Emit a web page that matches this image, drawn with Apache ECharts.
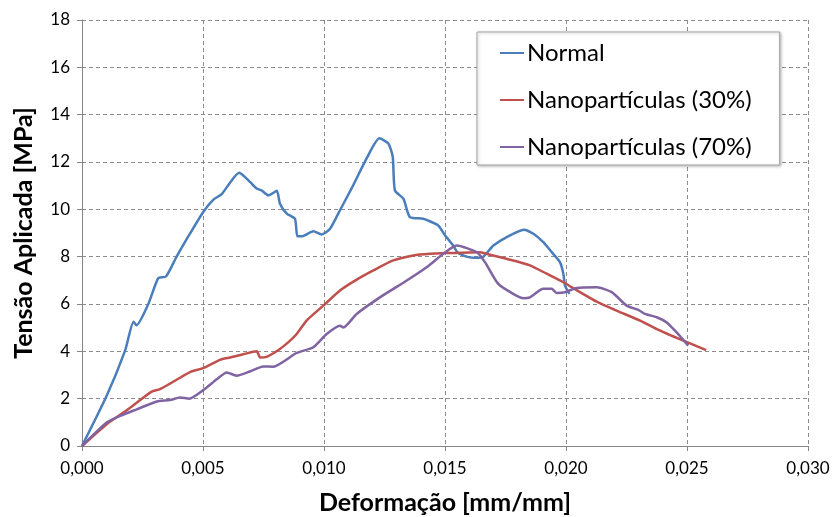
<!DOCTYPE html>
<html>
<head>
<meta charset="utf-8" />
<title>Tensão x Deformação</title>
<style>
  html, body { margin: 0; padding: 0; background: #fff; }
  #chart { width: 832px; height: 517px; }
</style>
</head>
<body>
<div id="chart"></div>
<script src="https://cdn.jsdelivr.net/npm/echarts@6/dist/echarts.min.js"></script>
<script>
// deformação [mm/mm] e tensão [MPa] de cada ensaio
var normalX = [0, 0.00102, 0.00178, 0.00213, 0.00225, 0.00274, 0.00315, 0.00347, 0.00391, 0.00446, 0.00501, 0.00543, 0.00577, 0.0065, 0.00694, 0.00722, 0.00742, 0.0077, 0.00805, 0.00818, 0.00846, 0.0088, 0.0089, 0.00908, 0.00956, 0.0099, 0.01025, 0.01066, 0.01121, 0.01176, 0.01229, 0.01266, 0.01284, 0.01293, 0.01328, 0.01355, 0.0141, 0.01472, 0.015, 0.01534, 0.01551, 0.01597, 0.01631, 0.01658, 0.017, 0.01755, 0.01826, 0.01865, 0.01906, 0.01941, 0.01975, 0.01989, 0.01996, 0.02014];
var normalY = [0, 2.12, 4.03, 5.25, 5.1, 6.0, 7.09, 7.16, 8.0, 8.97, 9.89, 10.41, 10.64, 11.55, 11.16, 10.88, 10.8, 10.59, 10.78, 10.24, 9.82, 9.6, 8.86, 8.86, 9.07, 8.94, 9.18, 9.96, 11.02, 12.15, 13.0, 12.78, 12.22, 10.8, 10.45, 9.67, 9.6, 9.32, 8.9, 8.47, 8.19, 7.98, 7.95, 8.0, 8.47, 8.83, 9.14, 8.97, 8.61, 8.19, 7.77, 7.28, 6.78, 6.43];

var nano30X = [0, 0.00102, 0.00171, 0.00226, 0.00288, 0.00322, 0.00391, 0.00453, 0.00501, 0.0057, 0.00612, 0.00667, 0.00722, 0.00736, 0.00763, 0.00818, 0.0086, 0.00887, 0.00928, 0.00997, 0.01066, 0.01135, 0.01204, 0.01286, 0.01369, 0.01438, 0.01507, 0.01645, 0.01686, 0.01782, 0.01851, 0.0192, 0.01989, 0.02058, 0.02127, 0.02209, 0.02306, 0.02375, 0.02485, 0.02579];
var nano30Y = [0, 0.92, 1.41, 1.83, 2.3, 2.4, 2.8, 3.15, 3.29, 3.64, 3.74, 3.88, 4.0, 3.74, 3.77, 4.1, 4.45, 4.73, 5.3, 5.93, 6.57, 7.03, 7.42, 7.84, 8.05, 8.12, 8.15, 8.19, 8.08, 7.84, 7.63, 7.28, 6.92, 6.5, 6.1, 5.72, 5.3, 4.94, 4.45, 4.05];

var nano70X = [0, 0.00102, 0.00157, 0.00226, 0.00309, 0.00364, 0.00405, 0.00443, 0.00501, 0.00557, 0.00598, 0.00639, 0.00694, 0.00749, 0.0079, 0.00887, 0.00956, 0.01011, 0.01066, 0.0108, 0.01135, 0.01231, 0.01342, 0.01424, 0.01493, 0.01548, 0.01631, 0.01665, 0.0172, 0.01782, 0.01824, 0.01851, 0.01906, 0.01941, 0.01961, 0.01996, 0.02044, 0.02127, 0.02189, 0.02251, 0.02299, 0.02326, 0.02375, 0.02416, 0.02457, 0.02505];
var nano70Y = [0, 0.99, 1.27, 1.55, 1.88, 1.94, 2.05, 2.0, 2.36, 2.82, 3.11, 2.97, 3.15, 3.36, 3.35, 3.93, 4.17, 4.73, 5.08, 5.01, 5.58, 6.28, 6.99, 7.55, 8.12, 8.47, 8.19, 7.77, 6.85, 6.43, 6.24, 6.28, 6.64, 6.64, 6.47, 6.5, 6.68, 6.71, 6.5, 5.93, 5.75, 5.58, 5.44, 5.22, 4.8, 4.24];

var seriesNames = ['Normal', 'Nanopartículas (30%)', 'Nanopartículas (70%)'];
var seriesColors = ['#4a7ebb', '#c0504d', '#8064a2'];

var _font = 'Lato';

function pairs(xs, ys) {
  var out = [];
  for (var i = 0; i < xs.length; i++) out.push([xs[i], ys[i]]);
  return out;
}

function lineSeries(name, color, data) {
  return {
    name: name,
    type: 'line',
    data: data,
    showSymbol: false,
    symbol: 'none',
    smooth: 0.2,
    lineStyle: { color: color, width: 2.5 },
    itemStyle: { color: color }
  };
}

var chart = echarts.init(document.getElementById('chart'));
var gridLine = { show: true, lineStyle: { color: '#8c8c8c', type: [4, 3], width: 1 } };

chart.setOption({
  animation: false,
  textStyle: { fontFamily: _font },
  grid: { left: 82, right: 24, top: 20, bottom: 71, containLabel: false, outerBoundsMode: 'none' },
  legend: {
    orient: 'vertical',
    left: 477,
    top: 32,
    padding: [9, 28, 6, 23],
    itemGap: 23,
    itemWidth: 24,
    itemHeight: 2,
    icon: 'rect',
    backgroundColor: '#fff',
    borderColor: '#a6a6a6',
    borderWidth: 1,
    shadowColor: 'rgba(0,0,0,0.25)',
    shadowBlur: 3,
    shadowOffsetX: 1,
    shadowOffsetY: 1,
    textStyle: { fontSize: 24, color: '#000', fontFamily: _font, padding: [0, 0, 0, -2] },
    data: seriesNames
  },
  xAxis: {
    type: 'value',
    min: 0,
    max: 0.03,
    interval: 0.005,
    name: 'Deformação [mm/mm]',
    nameLocation: 'middle',
    nameGap: 44,
    nameTextStyle: { fontSize: 25, fontWeight: 'bold', color: '#000', fontFamily: _font },
    axisLine: { show: true, lineStyle: { color: '#868686', width: 1 } },
    axisTick: { show: true, length: 5, lineStyle: { color: '#868686' } },
    axisLabel: {
      fontSize: 17, color: '#000', margin: 14,
      formatter: function (v) { return v.toFixed(3).replace('.', ','); }
    },
    splitLine: gridLine
  },
  yAxis: {
    type: 'value',
    min: 0,
    max: 18,
    interval: 2,
    name: 'Tensão Aplicada [MPa]',
    nameLocation: 'middle',
    nameGap: 46,
    nameTextStyle: { fontSize: 25, fontWeight: 'bold', color: '#000', fontFamily: _font },
    axisLine: { show: true, lineStyle: { color: '#868686', width: 1 } },
    axisTick: { show: true, length: 5, lineStyle: { color: '#868686' } },
    axisLabel: { fontSize: 17, color: '#000', margin: 12 },
    splitLine: gridLine
  },
  series: [
    lineSeries(seriesNames[0], seriesColors[0], pairs(normalX, normalY)),
    lineSeries(seriesNames[1], seriesColors[1], pairs(nano30X, nano30Y)),
    lineSeries(seriesNames[2], seriesColors[2], pairs(nano70X, nano70Y))
  ]
});
</script>
</body>
</html>
